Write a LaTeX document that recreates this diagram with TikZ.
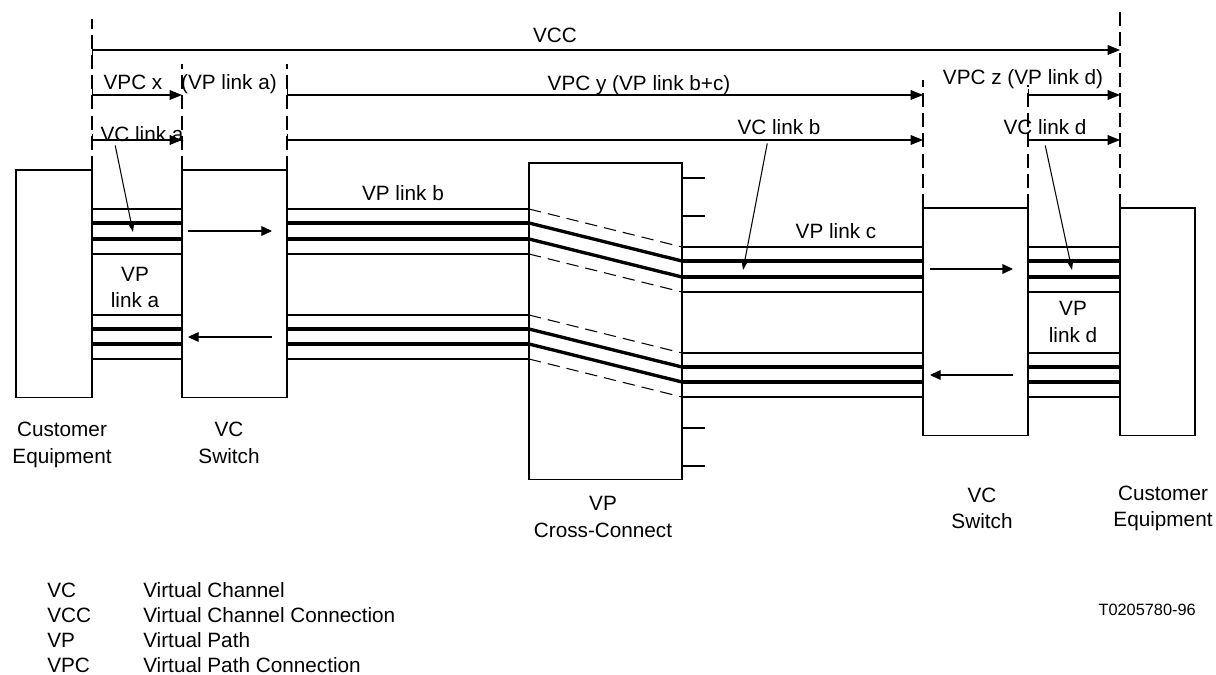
\documentclass[tikz,border=0pt]{standalone}
\usepackage{fontspec}
\setmainfont{Liberation Sans}
\usetikzlibrary{arrows.meta,calc}

\begin{document}
\begin{tikzpicture}[x=0.02cm, y=-0.02cm, line width=0.6pt,
	font=\fontsize{11.8pt}{14.8pt}\selectfont,
	unit/.style={rectangle, draw=black, anchor=north west, inner sep=0pt, outer sep=0pt},
	lbl/.style={inner sep=1pt, anchor=base},
	stack/.style={lbl, align=center},
	bound/.style={dash pattern=on 8pt off 3.5pt},
	span/.style={{Bar[width=7pt]}-{Triangle[length=7pt,width=5.5pt]}},
	flow/.style={-{Triangle[length=6pt,width=5.5pt]}},
	ptr/.style={-{Triangle[length=6pt,width=4pt]}},
	thinln/.style={line width=0.6pt},
	thickln/.style={line width=1.9pt},
	dashln/.style={line width=0.6pt, dash pattern=on 7pt off 4pt}]

	\useasboundingbox (0,0) rectangle (1216,675);

	% Equipment
	\node[unit, minimum width=1.52cm, minimum height=4.56cm] (CEl) at (16,170) {};
	\node[unit, minimum width=2.1cm, minimum height=4.56cm] (VCl) at (182,170) {};
	\node[unit, minimum width=3.06cm, minimum height=6.34cm] (VPX) at (529,163) {};
	\node[unit, minimum width=2.1cm, minimum height=4.56cm] (VCr) at (923,208) {};
	\node[unit, minimum width=1.5cm, minimum height=4.56cm] (CEr) at (1120,208) {};

	% Boundaries
	\draw[bound] (CEl.north east) -- (CEl.east |- 0,19);
	\draw[bound] (VCl.north west) -- (VCl.west |- 0,64);
	\draw[bound] (VCl.north east) -- (VCl.east |- 0,64);
	\draw[bound] (VCr.north west) -- (VCr.west |- 0,80);
	\draw[bound] (VCr.north east) -- (VCr.east |- 0,85);
	\draw[bound] (CEr.north west) -- (CEr.west |- 0,12);

	% Connections
	\draw[span] (CEl.east |- 0,50) -- (CEr.west |- 0,50);
	\draw[span] (CEl.east |- 0,95) -- (VCl.west |- 0,95);
	\draw[span] (VCl.east |- 0,95) -- (VCr.west |- 0,95);
	\draw[span] (VCr.east |- 0,95) -- (CEr.west |- 0,95);
	\draw[span] (CEl.east |- 0,140) -- (VCl.west |- 0,140);
	\draw[span] (VCl.east |- 0,140) -- (VCr.west |- 0,140);
	\draw[span] (VCr.east |- 0,140) -- (CEr.west |- 0,140);

	\node[lbl] (vcc) at (555,43) {VCC};
	\node[lbl] (vpcx) at (133,90) {VPC x};
	\node[lbl] (vpla) at (229,90) {(VP link a)};
	\node[lbl] (vpcy) at (639,91) {VPC y (VP link b+c)};
	\node[lbl] (vpcz) at (1023,85) {VPC z (VP link d)};
	\node[lbl] (vcla) at (142,142) {VC link a};
	\node[lbl] (vclb) at (779,135) {VC link b};
	\node[lbl] (vcld) at (1045,135) {VC link d};

	% Virtual paths
	\foreach \y in {209,254,315,359} {
		\draw[thinln] (CEl.east |- 0,\y) -- (VCl.west |- 0,\y);
		\draw[thinln] (VCl.east |- 0,\y) -- (VPX.west |- 0,\y);
		\draw[dashln] (VPX.west |- 0,\y) -- (VPX.east |- 0,\y+38);
		\draw[thinln] (VPX.east |- 0,\y+38) -- (VCr.west |- 0,\y+38);
		\draw[thinln] (VCr.east |- 0,\y+38) -- (CEr.west |- 0,\y+38);
	}
	\foreach \y in {223,239,329,344} {
		\draw[thickln] (CEl.east |- 0,\y) -- (VCl.west |- 0,\y);
		\draw[thickln] (VCl.east |- 0,\y) -- (VPX.west |- 0,\y);
		\draw[thickln] (VPX.west |- 0,\y) -- (VPX.east |- 0,\y+38);
		\draw[thickln] (VPX.east |- 0,\y+38) -- (VCr.west |- 0,\y+38);
		\draw[thickln] (VCr.east |- 0,\y+38) -- (CEr.west |- 0,\y+38);
	}
	\foreach \y in {178,216,428,466} \draw (VPX.east |- 0,\y) -- ++(23,0);

	\node[lbl] (vplb) at (403,201) {VP link b};
	\node[lbl] (vplc) at (836,239) {VP link c};
	\node[stack] (vpa) at (135,308) {VP\\link a};
	\node[stack] (vpd) at (1073,342) {VP\\link d};

	% Pointers and directions
	\coordinate (ta) at (133,232);
	\coordinate (tb) at (743,270);
	\coordinate (td) at (1072,270);
	\draw[ptr] ($(vcla.south west)+(17,1)$) -- (ta);
	\draw[ptr] ($(vclb.south west)+(32,6)$) -- (tb);
	\draw[ptr] ($(vcld.south west)+(44,8)$) -- (td);
	\draw[flow] (188,231) -- (272,231);
	\draw[flow] (272,337) -- (188,337);
	\draw[flow] (930,269) -- (1013,269);
	\draw[flow] (1013,375) -- (930,375);

	% Captions
	\node[stack] (nCEl) at (62,463) {Customer\\Equipment};
	\node[stack] (nVCl) at (229,463) {VC\\Switch};
	\node[stack] (nVPX) at (603,537) {VP\\Cross-Connect};
	\node[stack] (nVCr) at (982,528) {VC\\Switch};
	\node[stack] (nCEr) at (1163,526) {Customer\\Equipment};

	% Legend
	\node[lbl, anchor=base west] (kVC) at (45,597) {VC};
	\node[lbl, anchor=base west] (kVCC) at (45,622) {VCC};
	\node[lbl, anchor=base west] (kVP) at (45,647) {VP};
	\node[lbl, anchor=base west] (kVPC) at (45,672) {VPC};
	\node[lbl, anchor=base west] (dVC) at (141,597) {Virtual Channel};
	\node[lbl, anchor=base west] (dVCC) at (141,622) {Virtual Channel Connection};
	\node[lbl, anchor=base west] (dVP) at (141,647) {Virtual Path};
	\node[lbl, anchor=base west] (dVPC) at (141,672) {Virtual Path Connection};
	\node[lbl, anchor=base east, font=\fontsize{9.3pt}{11pt}\selectfont] (fig) at (1198,615) {T0205780-96};
\end{tikzpicture}
\end{document}
